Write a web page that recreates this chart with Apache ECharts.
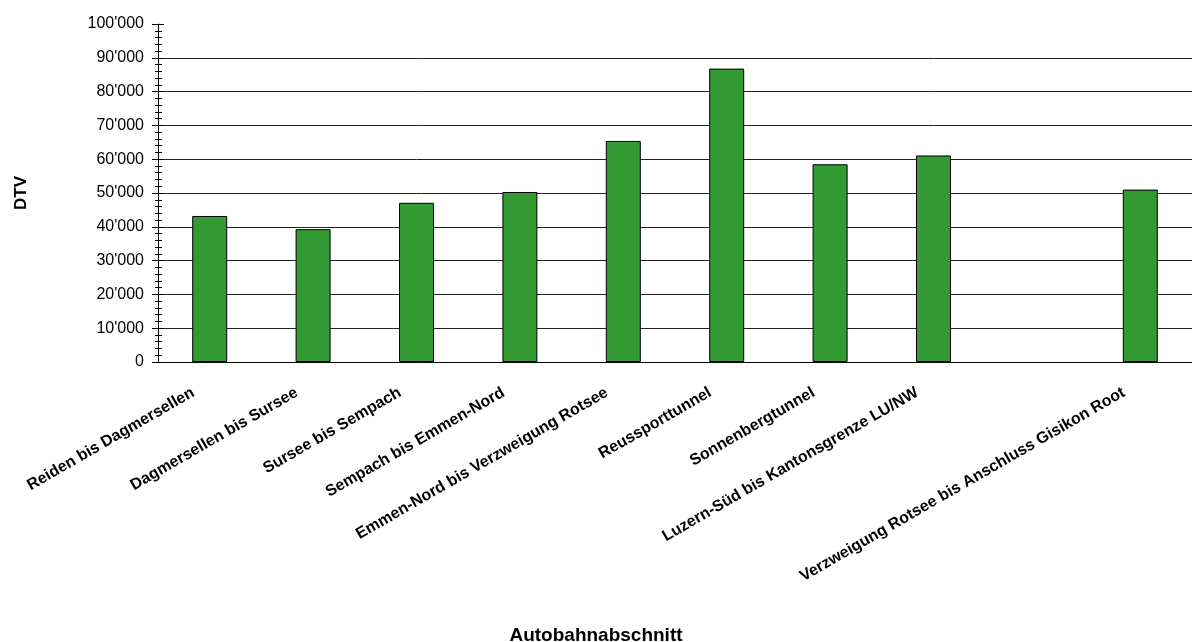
<!DOCTYPE html>
<html>
<head>
<meta charset="utf-8">
<script src="https://cdn.jsdelivr.net/npm/echarts@6/dist/echarts.min.js"></script>
<style>html,body{margin:0;padding:0;background:#fff;}#c{width:1192px;height:642px;}</style>
</head>
<body>
<div id="c"></div>
<script>
var categories = ['Reiden bis Dagmersellen','Dagmersellen bis Sursee','Sursee bis Sempach','Sempach bis Emmen-Nord','Emmen-Nord bis Verzweigung Rotsee','Reussporttunnel','Sonnenbergtunnel','Luzern-Süd bis Kantonsgrenze LU/NW','','Verzweigung Rotsee bis Anschluss Gisikon Root'];
var dtvValues = [43200, 39300, 47100, 50300, 65400, 86800, 58500, 61100, null, 51000];
var yMin = 0, yMax = 100000, yStep = 10000;
var yTitle = 'DTV';
var xTitle = 'Autobahnabschnitt';

function fmt(v){ if(v===0) return '0'; var s=String(v); return s.replace(/\B(?=(\d{3})+(?!\d))/g, "'"); }

var FF = 'Liberation Sans, Arial, sans-serif';
var chart = echarts.init(document.getElementById('c'), null, {renderer:'canvas'});
chart.setOption({
  animation: false,
  backgroundColor: '#fff',
  textStyle: {fontFamily: FF},
  title: {
    text: xTitle, left: 'center', top: 621,
    textStyle: {fontFamily: FF, fontSize: 19, fontWeight: 'bold', color: '#000'}
  },
  grid: {left: 158, top: 24, width: 1045, height: 338, containLabel: false},
  xAxis: {
    type: 'category', data: categories,
    axisLine: {show: true, lineStyle: {color: '#000', width: 1}},
    axisTick: {show: false},
    axisLabel: {interval: 0, rotate: 30, margin: 20, fontSize: 16, fontWeight: 'bold', color: '#000', padding: [0, 19, 0, 0],
      fontFamily: FF}
  },
  yAxis: [{
    type: 'value', min: yMin, max: yMax, interval: yStep,
    name: yTitle, nameLocation: 'middle', nameGap: 128, nameRotate: 90,
    nameTextStyle: {fontSize: 17, fontWeight: 'bold', color: '#000', fontFamily: FF},
    axisLine: {show: true, lineStyle: {color: '#000', width: 1}},
    axisTick: {show: true, length: 6, lineStyle: {color: '#000'}},
    minorTick: {show: true, splitNumber: 5, length: 3, lineStyle: {color: '#000'}},
    splitLine: {show: true, showMaxLine: false, showMinLine: false, lineStyle: {color: '#222', width: 1}},
    axisLabel: {margin: 14, fontSize: 16, color: '#000', formatter: fmt, fontFamily: FF}
  },{
    type: 'value', min: yMin, max: yMax, interval: yStep, position: 'left',
    axisLine: {show: false},
    axisTick: {show: true, inside: true, length: 6, lineStyle: {color: '#000'}},
    minorTick: {show: true, splitNumber: 5, length: 4, lineStyle: {color: '#000'}},
    splitLine: {show: false},
    axisLabel: {show: false}
  }],
  series: [{
    type: 'bar', data: dtvValues, yAxisIndex: 0, barWidth: 35,
    itemStyle: {color: '#339933', borderColor: '#000', borderWidth: 1}
  }]
});
</script>
</body>
</html>
